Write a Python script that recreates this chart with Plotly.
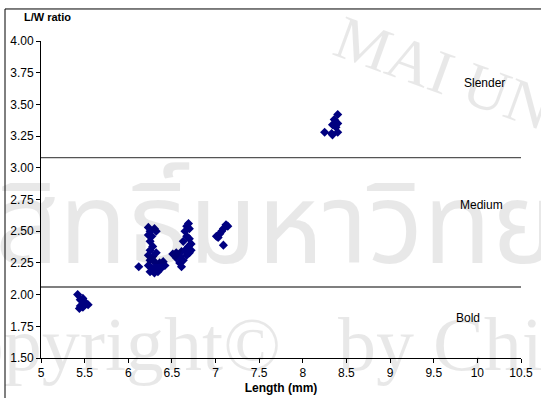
import plotly.graph_objects as go

# Data
bold_len = [5.42, 5.48, 5.45, 5.50, 5.54, 5.45, 5.48, 5.44, 5.47, 5.52]
bold_ratio = [2.00, 1.97, 1.96, 1.94, 1.92, 1.91, 1.90, 1.89, 1.95, 1.93]

med1_len = [6.23, 6.30, 6.25, 6.32, 6.23, 6.27, 6.25, 6.28, 6.25, 6.23, 6.28, 6.32,
            6.25, 6.30, 6.23, 6.27, 6.32, 6.36, 6.40, 6.42, 6.38, 6.34, 6.25, 6.30, 6.12]
med1_ratio = [2.53, 2.52, 2.50, 2.50, 2.47, 2.46, 2.42, 2.38, 2.35, 2.31, 2.30, 2.33,
              2.27, 2.26, 2.23, 2.21, 2.22, 2.25, 2.26, 2.23, 2.21, 2.18, 2.18, 2.17, 2.22]

med2_len = [6.69, 6.67, 6.70, 6.65, 6.67, 6.70, 6.63, 6.72, 6.69, 6.72, 6.65, 6.61,
            6.55, 6.51, 6.59, 6.67, 6.55, 6.63, 6.70, 6.59, 6.61]
med2_ratio = [2.56, 2.54, 2.52, 2.50, 2.46, 2.44, 2.42, 2.40, 2.38, 2.35, 2.35, 2.34,
              2.33, 2.32, 2.30, 2.31, 2.29, 2.27, 2.33, 2.25, 2.22]

med3_len = [7.12, 7.14, 7.09, 7.07, 7.05, 7.01, 7.03, 7.09]
med3_ratio = [2.55, 2.54, 2.52, 2.50, 2.48, 2.46, 2.45, 2.39]

slen_len = [8.40, 8.36, 8.40, 8.34, 8.38, 8.25, 8.33, 8.40, 8.34]
slen_ratio = [3.42, 3.38, 3.35, 3.34, 3.32, 3.28, 3.27, 3.28, 3.26]

lengths = bold_len + med1_len + med2_len + med3_len + slen_len
ratios = bold_ratio + med1_ratio + med2_ratio + med3_ratio + slen_ratio

class_bounds = [3.08, 2.06]
class_names = ["Slender", "Medium", "Bold"]
class_label_x = [10.08, 10.05, 9.89]
class_label_y = [3.67, 2.71, 1.815]

x_ticks = [5, 5.5, 6, 6.5, 7, 7.5, 8, 8.5, 9, 9.5, 10, 10.5]
x_tick_text = ["5", "5.5", "6", "6.5", "7", "7.5", "8", "8.5", "9", "9.5", "10", "10.5"]
y_ticks = [1.50, 1.75, 2.00, 2.25, 2.50, 2.75, 3.00, 3.25, 3.50, 3.75, 4.00]

FONT = "Liberation Sans, Arial, sans-serif"
SERIF = "Liberation Serif, Times New Roman, serif"

fig = go.Figure()
fig.add_trace(go.Scatter(
    x=lengths, y=ratios, mode="markers",
    marker=dict(symbol="diamond", size=7, color="#000080",
                line=dict(width=0)),
    showlegend=False, hoverinfo="x+y"))

shapes = []
for yb in class_bounds:
    shapes.append(dict(type="line", xref="x", yref="y", x0=5, x1=10.55,
                       y0=yb, y1=yb, line=dict(color="#555555", width=1.3),
                       layer="above"))
# outer frame (left and top edges visible)
shapes.append(dict(type="line", xref="paper", yref="paper", x0=-0.075, x1=-0.075,
                   y0=1.101, y1=-0.2, line=dict(color="black", width=1)))
shapes.append(dict(type="line", xref="paper", yref="paper", x0=-0.075, x1=1.1,
                   y0=1.101, y1=1.101, line=dict(color="black", width=1)))

annotations = []
# faint background watermark
wm = "rgba(0,0,0,0.09)"
annotations.append(dict(xref="paper", yref="paper", x=-0.1, y=0.41,
                        xanchor="left", yanchor="middle",
                        text="สิทธิ์มหาวิทยาลัยเชียงใหม่", showarrow=False,
                        font=dict(size=112, color=wm, family="Noto Sans Thai, Noto Sans, sans-serif")))
annotations.append(dict(xref="paper", yref="paper", x=-0.267, y=0.045,
                        xanchor="left", yanchor="middle",
                        text="Copyright©\u00a0\u00a0\u00a0by Chiang Mai", showarrow=False,
                        font=dict(size=76, color=wm, family=SERIF)))
annotations.append(dict(xref="paper", yref="paper", x=0.84, y=0.9,
                        xanchor="center", yanchor="middle", textangle=20,
                        text="MAI UN", showarrow=False,
                        font=dict(size=62, color=wm, family=SERIF)))

for name, lx, ly in zip(class_names, class_label_x, class_label_y):
    annotations.append(dict(x=lx, y=ly, xref="x", yref="y", text=name,
                            showarrow=False, font=dict(size=12, color="black", family=FONT)))
annotations.append(dict(xref="paper", yref="paper", x=-0.04, y=1.075,
                        xanchor="left", yanchor="middle", text="<b>L/W ratio</b>",
                        showarrow=False, font=dict(size=11, color="black", family=FONT)))

fig.update_layout(
    width=541, height=398,
    margin=dict(l=41, r=20, t=41, b=40),
    paper_bgcolor="white", plot_bgcolor="rgba(0,0,0,0)",
    font=dict(family=FONT, size=12, color="black"),
    shapes=shapes, annotations=annotations,
    xaxis=dict(range=[5, 10.5], tickvals=x_ticks, ticktext=x_tick_text,
               showgrid=False, zeroline=False, showline=True, linecolor="black",
               linewidth=1, ticks="outside", ticklen=4, tickcolor="black",
               automargin=False,
               title=dict(text="<b>Length (mm)</b>", font=dict(size=12), standoff=4)),
    yaxis=dict(range=[1.5, 4.0], tickvals=y_ticks, tickformat=".2f",
               showgrid=False, zeroline=False, showline=True, linecolor="black",
               linewidth=1, ticks="outside", ticklen=4, tickcolor="black",
               automargin=False),
)

fig.write_html("out.html")
